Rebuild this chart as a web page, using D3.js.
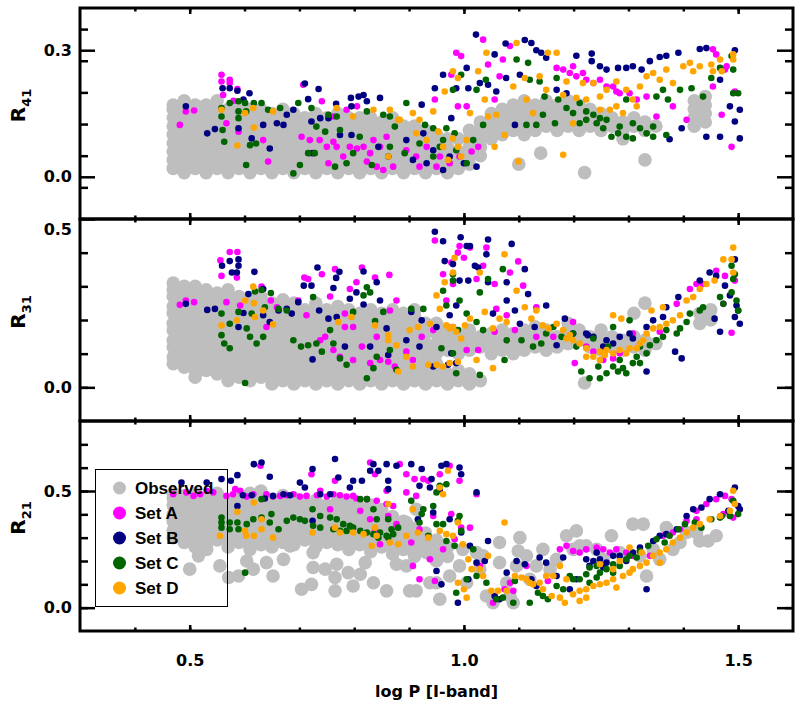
<!DOCTYPE html>
<html>
<head>
<meta charset="utf-8">
<script src="https://cdn.jsdelivr.net/npm/d3@7"></script>
<style>
  body { margin: 0; background: #fff; }
  #graphic { width: 802px; height: 702px; }
</style>
</head>
<body>
<div id="graphic"></div>
<script>
// Fourier parameter ratios vs log P, observed stars and four model sets

// observed stars, dense part: [logP, [R values]]
const obsR41Cols = [
  [0.47,[0.02,0.04,0.06,0.08,0.10,0.12,0.14,0.16,0.17]],[0.49,[0.01,0.03,0.05,0.07,0.09,0.11,0.13,0.15,0.17,0.18]],
  [0.51,[0.02,0.04,0.06,0.08,0.10,0.12,0.14,0.16,0.17]],[0.53,[0.01,0.03,0.05,0.07,0.09,0.11,0.13,0.15,0.17]],
  [0.55,[0.02,0.04,0.06,0.08,0.10,0.12,0.14,0.16,0.18]],[0.57,[0.01,0.03,0.05,0.07,0.09,0.11,0.13,0.15,0.16]],
  [0.59,[0.02,0.04,0.06,0.08,0.10,0.12,0.14,0.16,0.17]],[0.61,[0.01,0.03,0.05,0.07,0.09,0.11,0.13,0.15,0.16]],
  [0.63,[0.02,0.04,0.06,0.08,0.10,0.12,0.14,0.16]],[0.65,[0.01,0.03,0.05,0.07,0.09,0.11,0.13,0.15]],
  [0.67,[0.02,0.04,0.06,0.08,0.10,0.12,0.14,0.16]],[0.69,[0.01,0.03,0.05,0.07,0.09,0.11,0.13,0.15]],
  [0.71,[0.02,0.04,0.06,0.08,0.10,0.12,0.14]],[0.73,[0.01,0.03,0.05,0.07,0.09,0.11,0.13,0.15]],
  [0.75,[0.02,0.04,0.06,0.08,0.10,0.12,0.14]],[0.77,[0.01,0.03,0.05,0.07,0.09,0.11,0.13,0.15]],
  [0.79,[0.02,0.04,0.06,0.08,0.10,0.12,0.14]],[0.81,[0.01,0.03,0.05,0.07,0.09,0.11,0.13,0.14]],
  [0.83,[0.02,0.04,0.06,0.08,0.10,0.12,0.14]],[0.85,[0.01,0.03,0.05,0.07,0.09,0.11,0.13]],
  [0.87,[0.02,0.04,0.06,0.08,0.10,0.12,0.14]],[0.89,[0.01,0.03,0.05,0.07,0.09,0.11,0.12]],
  [0.91,[0.02,0.04,0.06,0.08,0.10,0.12]],[0.93,[0.01,0.03,0.05,0.07,0.09,0.11]],
  [0.95,[0.02,0.04,0.06,0.08,0.10]],[0.97,[0.01,0.03,0.05,0.07,0.09]],
  [0.99,[0.02,0.04,0.06,0.09]],[1.01,[0.03,0.05,0.07,0.09,0.11]],[1.03,[0.05,0.07,0.09,0.11,0.13]],
  [1.05,[0.09,0.11,0.13,0.15]],[1.07,[0.10,0.12,0.14,0.16]],[1.09,[0.11,0.13,0.15,0.17]],
  [1.11,[0.10,0.12,0.14,0.16,0.18]],[1.13,[0.11,0.13,0.15,0.17]],[1.15,[0.12,0.14,0.16,0.18]],
  [1.17,[0.11,0.13,0.15,0.17]],[1.19,[0.12,0.14,0.16,0.18]],[1.21,[0.11,0.13,0.15,0.17]],
  [1.23,[0.12,0.14,0.16]],[1.25,[0.11,0.13,0.15]],[1.27,[0.12,0.14]],[1.29,[0.11,0.13]],
  [1.31,[0.12,0.14]],[1.33,[0.11,0.13]],[1.35,[0.12]],[1.42,[0.12,0.14,0.16,0.18]],[1.44,[0.13,0.15,0.17,0.19]]
];
const obsR41Pts = [[1.10,0.03],[1.14,0.056],[1.22,0.01],[1.33,0.04],[1.29,0.09]];

const obsR31Cols = [
  [0.47,[0.07,0.09,0.12,0.14,0.17,0.19,0.22,0.24,0.27,0.29,0.31]],
  [0.49,[0.06,0.08,0.11,0.13,0.16,0.18,0.21,0.23,0.26,0.28,0.30]],
  [0.51,[0.03,0.05,0.08,0.10,0.13,0.15,0.18,0.20,0.23,0.25,0.28,0.30]],
  [0.53,[0.05,0.07,0.10,0.12,0.15,0.17,0.20,0.22,0.25,0.27,0.29]],
  [0.55,[0.04,0.06,0.09,0.11,0.14,0.16,0.19,0.21,0.24,0.26,0.28]],
  [0.57,[0.02,0.04,0.07,0.09,0.12,0.14,0.17,0.19,0.22,0.24,0.27,0.29]],
  [0.59,[0.03,0.05,0.08,0.10,0.13,0.15,0.18,0.20,0.23,0.25,0.27]],
  [0.61,[0.02,0.04,0.07,0.09,0.12,0.14,0.17,0.19,0.22,0.24,0.26]],
  [0.63,[0.03,0.05,0.08,0.10,0.13,0.15,0.18,0.20,0.23,0.25,0.27]],
  [0.65,[0.01,0.03,0.06,0.08,0.11,0.13,0.16,0.18,0.21,0.23,0.25]],
  [0.67,[0.02,0.04,0.07,0.09,0.12,0.14,0.17,0.19,0.22,0.24,0.26]],
  [0.69,[0.01,0.03,0.06,0.08,0.11,0.13,0.16,0.18,0.21,0.23,0.25]],
  [0.71,[0.02,0.04,0.07,0.09,0.12,0.14,0.17,0.19,0.21,0.23]],
  [0.73,[0.01,0.03,0.06,0.08,0.11,0.13,0.16,0.18,0.21,0.23,0.25]],
  [0.75,[0.02,0.04,0.07,0.09,0.12,0.14,0.17,0.19,0.21,0.23]],
  [0.77,[0.01,0.03,0.06,0.08,0.11,0.13,0.16,0.18,0.21,0.24]],
  [0.79,[0.02,0.04,0.07,0.09,0.12,0.14,0.17,0.19,0.21,0.23]],
  [0.81,[0.01,0.03,0.06,0.08,0.11,0.13,0.16,0.18,0.20,0.22]],
  [0.83,[0.02,0.04,0.07,0.09,0.12,0.14,0.17,0.19,0.21,0.23]],
  [0.85,[0.01,0.03,0.06,0.08,0.11,0.13,0.16,0.18,0.20,0.22]],
  [0.87,[0.02,0.04,0.07,0.09,0.12,0.14,0.17,0.19,0.21,0.23]],
  [0.89,[0.01,0.03,0.06,0.08,0.11,0.13,0.16,0.18,0.20,0.22]],
  [0.91,[0.02,0.04,0.07,0.09,0.12,0.14,0.17,0.19,0.21,0.23]],
  [0.93,[0.01,0.03,0.06,0.08,0.11,0.13,0.16,0.19]],
  [0.95,[0.02,0.04,0.07,0.10,0.13,0.16,0.19]],[0.97,[0.01,0.04,0.11,0.14,0.17]],
  [0.99,[0.02,0.05,0.10,0.13,0.16]],[1.01,[0.01,0.04,0.11,0.14,0.17]],[1.03,[0.02,0.12,0.15]],
  [1.05,[0.10,0.13,0.16]],[1.07,[0.11,0.14,0.17]],[1.09,[0.10,0.13,0.16]],[1.11,[0.11,0.14,0.17]],
  [1.13,[0.12,0.15,0.18]],[1.15,[0.11,0.14,0.17]],[1.17,[0.12,0.15]],[1.19,[0.13,0.16,0.19]],
  [1.21,[0.14,0.17]],[1.23,[0.12,0.15]],[1.25,[0.11,0.14,0.17]],[1.27,[0.12,0.15]],[1.29,[0.11,0.14]],
  [1.31,[0.12,0.15,0.22]],[1.33,[0.11,0.14,0.25]],[1.35,[0.13]],[1.43,[0.19,0.22]],[1.45,[0.20,0.23]]
];
const obsR31Pts = [[1.22,0.013]];

const obsR21Cols = [
  [0.47,[0.30,0.33,0.37,0.40,0.44,0.47,0.49]],[0.49,[0.28,0.31,0.35,0.38,0.42,0.45,0.48]],
  [0.51,[0.26,0.29,0.33,0.36,0.40,0.43,0.46,0.49]],[0.53,[0.27,0.30,0.34,0.37,0.41,0.44,0.47]],
  [0.55,[0.29,0.32,0.36,0.39,0.43,0.46,0.49]],[0.57,[0.26,0.29,0.33,0.36,0.40,0.43,0.46]],
  [0.59,[0.28,0.31,0.35,0.38,0.42,0.45,0.48]],[0.61,[0.25,0.28,0.32,0.35,0.39,0.42,0.46,0.49]],
  [0.63,[0.27,0.30,0.34,0.37,0.41,0.44,0.47,0.50]],[0.65,[0.26,0.29,0.33,0.36,0.40,0.43,0.46]],
  [0.67,[0.28,0.31,0.35,0.38,0.42,0.45,0.48]],[0.69,[0.27,0.30,0.34,0.37,0.41,0.44,0.47]],
  [0.71,[0.29,0.32,0.36,0.39,0.42,0.45]],[0.73,[0.26,0.29,0.33,0.36,0.40,0.43,0.46]],
  [0.75,[0.28,0.31,0.35,0.38,0.41,0.44]],[0.77,[0.27,0.30,0.34,0.37,0.40,0.43,0.46]],
  [0.79,[0.25,0.28,0.32,0.35,0.39,0.42,0.45]],[0.81,[0.27,0.30,0.34,0.37,0.40,0.43]],
  [0.83,[0.24,0.27,0.31,0.34,0.38,0.41,0.44]],[0.85,[0.26,0.29,0.33,0.36,0.39,0.42]],
  [0.87,[0.23,0.26,0.30,0.33,0.36,0.39]],[0.89,[0.25,0.28,0.32,0.35,0.37]],
  [0.91,[0.22,0.25,0.29,0.32,0.34]],[0.93,[0.24,0.27,0.30,0.32]],[0.95,[0.20,0.24,0.27,0.29]],[0.97,[0.22,0.26]]
];
const obsR21Pts = [
  [0.50,0.165],[0.516,0.222],[0.571,0.129],[0.589,0.136],[0.604,0.20],[0.616,0.165],[0.64,0.193],
  [0.671,0.207],[0.683,0.265],[0.704,0.079],[0.722,0.10],[0.725,0.172],[0.725,0.236],[0.765,0.072],
  [0.765,0.129],[0.768,0.186],[0.789,0.15],[0.811,0.143],[0.82,0.193],[0.835,0.107],[0.859,0.072],
  [0.877,0.186],[0.531,0.25],[0.555,0.179],[0.652,0.136],[0.747,0.165],[0.798,0.093],
  [0.901,0.072],[0.913,0.072],[0.956,0.036],[0.95,0.107],[0.895,0.179],[0.919,0.25],[0.974,0.136],
  [1.005,0.107],[1.029,0.165],[1.041,0.05],[1.053,0.021],[1.065,0.279],[1.084,0.05],[1.09,0.021],
  [1.102,0.30],[1.099,0.243],[1.12,0.122],[1.132,0.179],[1.187,0.308],[1.205,0.329],[1.211,0.265],
  [1.242,0.25],[1.269,0.308],[1.308,0.358],[1.327,0.358],[1.333,0.136],[1.369,0.343],[1.381,0.25],
  [1.406,0.322],[1.43,0.286],[1.445,0.286],[1.424,0.322],[1.321,0.222],[1.357,0.207],[1.144,0.25],
  [1.169,0.207],[1.199,0.25],[1.223,0.265],[1.065,0.193],[1.096,0.179],[0.895,0.365],[0.913,0.422],
  [0.932,0.236],[0.998,0.25],[1.023,0.236],[0.938,0.107],[0.992,0.179],[1.035,0.222],[1.078,0.107],
  [1.114,0.222],[1.157,0.165],[1.254,0.207],[1.284,0.236],[1.345,0.25],[1.394,0.279],[1.46,0.308]
];

// model sets, R41
const setAR41 = [
  [0.558,0.242],[0.558,0.226],[0.573,0.23],[0.573,0.222],[0.587,0.208],[0.561,0.194],[0.482,0.123],
  [0.493,0.155],[0.508,0.157],[0.707,0.218],[0.741,0.179],[0.589,0.107],[0.643,0.036],[0.634,0.087],
  [0.567,0.127],[0.58,0.18],[0.704,0.095],[0.719,0.087],[0.737,0.087],[0.75,0.071],[0.762,0.083],
  [0.768,0.071],[0.753,0.032],[0.78,0.048],[0.792,0.071],[0.805,0.067],[0.817,0.071],[0.829,0.056],
  [0.835,0.087],[0.847,0.071],[0.859,0.095],[0.841,0.024],[0.853,0.016],[0.871,0.024],[0.823,0.036],
  [0.786,0.159],[0.805,0.167],[0.762,0.143],[0.72,0.056],[0.986,0.294],[0.995,0.286],[0.977,0.242],
  [1.044,0.266],[1.071,0.278],[1.084,0.31],[1.035,0.325],[0.989,0.167],[1.005,0.167],[0.947,0.183],
  [1.169,0.258],[1.181,0.254],[1.193,0.246],[1.199,0.262],[1.205,0.238],[1.217,0.246],[1.223,0.23],
  [1.236,0.222],[1.248,0.23],[1.26,0.214],[1.272,0.214],[1.278,0.202],[1.284,0.198],[1.302,0.198],
  [1.315,0.183],[1.333,0.19],[1.454,0.302],[1.46,0.29],[1.476,0.254],[1.454,0.214],[1.494,0.202],
  [1.488,0.071],[1.47,0.147],[1.406,0.135],[1.381,0.167],[1.351,0.143],[1.479,0.262],[0.895,0.063],
  [0.913,0.048],[0.932,0.071],[0.956,0.048],[0.974,0.032],[0.992,0.048],[1.014,0.06],[1.026,0.071],
  [0.919,0.024],[0.95,0.024],[1.056,0.183],[1.065,0.238]
];
const setBR41 = [
  [0.493,0.167],[0.532,0.103],[0.546,0.113],[0.56,0.21],[0.573,0.21],[0.587,0.204],[0.598,0.183],
  [0.609,0.198],[0.589,0.115],[0.613,0.091],[0.634,0.123],[0.646,0.067],[0.71,0.221],[0.735,0.208],
  [0.716,0.184],[0.689,0.159],[0.677,0.147],[0.722,0.131],[0.767,0.173],[0.794,0.187],[0.808,0.19],
  [0.817,0.194],[0.823,0.179],[0.847,0.187],[0.738,0.139],[0.753,0.139],[0.795,0.099],[0.774,0.099],
  [0.659,0.127],[0.671,0.123],[0.795,0.167],[0.862,0.048],[0.725,0.056],[0.844,0.071],[1.022,0.337],
  [1.076,0.316],[1.111,0.324],[1.123,0.317],[1.132,0.30],[1.141,0.294],[1.15,0.282],[1.205,0.287],
  [1.233,0.292],[1.233,0.274],[1.248,0.262],[1.26,0.254],[1.281,0.258],[1.296,0.258],[1.308,0.262],
  [1.324,0.254],[1.339,0.274],[1.357,0.284],[1.369,0.287],[1.391,0.294],[1.43,0.303],[1.442,0.305],
  [1.494,0.30],[1.467,0.23],[1.485,0.167],[1.503,0.159],[1.494,0.131],[1.442,0.095],[1.467,0.095],
  [1.503,0.091],[1.375,0.089],[1.397,0.115],[0.947,0.21],[0.962,0.242],[0.986,0.21],[1.008,0.21],
  [1.029,0.222],[1.044,0.218],[1.059,0.202],[1.077,0.234],[1.102,0.242],[1.005,0.258],[1.056,0.29],
  [1.169,0.206],[1.187,0.198],[0.895,0.087],[0.907,0.04],[0.932,0.032],[0.944,0.063],[0.962,0.016],
  [0.974,0.048],[1.0,0.032],[1.023,0.024],[0.923,0.171],[0.977,0.139],[1.093,0.123],[0.926,0.103]
];
const setCR41 = [
  [0.558,0.163],[0.558,0.143],[0.56,0.111],[0.563,0.083],[0.573,0.175],[0.589,0.179],[0.589,0.155],
  [0.589,0.139],[0.601,0.175],[0.603,0.155],[0.603,0.028],[0.61,0.075],[0.621,0.079],[0.617,0.175],
  [0.631,0.175],[0.643,0.159],[0.665,0.163],[0.689,0.008],[0.701,0.028],[0.698,0.175],[0.722,0.163],
  [0.716,0.056],[0.728,0.056],[0.731,0.119],[0.747,0.107],[0.753,0.147],[0.768,0.143],[0.774,0.111],
  [0.786,0.032],[0.765,0.024],[0.798,0.056],[0.81,0.095],[0.823,0.155],[0.832,0.028],[0.853,0.147],
  [0.865,0.143],[0.874,0.119],[0.865,0.071],[0.892,0.056],[0.895,0.175],[0.929,0.123],[0.944,0.115],
  [0.956,0.071],[0.968,0.115],[0.983,0.103],[0.995,0.242],[0.98,0.206],[1.023,0.206],[1.04,0.23],
  [1.035,0.123],[1.096,0.278],[1.117,0.27],[1.12,0.23],[1.138,0.226],[1.147,0.19],[1.169,0.234],
  [1.172,0.183],[1.187,0.163],[1.199,0.151],[1.211,0.175],[1.223,0.155],[1.236,0.147],[1.248,0.139],
  [1.26,0.135],[1.269,0.095],[1.281,0.103],[1.296,0.095],[1.308,0.127],[1.321,0.115],[1.333,0.103],
  [1.345,0.119],[1.369,0.099],[1.372,0.183],[1.394,0.206],[1.415,0.21],[1.436,0.19],[1.451,0.234],
  [1.467,0.258],[1.491,0.254],[1.491,0.198],[1.50,0.198],[1.488,0.286],[1.211,0.127],[1.242,0.127],
  [1.284,0.119],[1.144,0.147],[1.132,0.123],[1.114,0.123],[1.166,0.127],[1.296,0.183],[1.351,0.19],
  [1.363,0.206],[1.223,0.135],[1.254,0.115],[1.308,0.091],[1.345,0.095],[0.919,0.079],[0.944,0.048],
  [0.962,0.087],[0.986,0.063],[1.005,0.032],[1.017,0.087]
];
const setDR41 = [
  [0.558,0.159],[0.587,0.074],[0.601,0.151],[0.616,0.163],[0.617,0.117],[0.652,0.155],[0.768,0.163],
  [0.798,0.143],[0.835,0.159],[0.862,0.048],[0.865,0.159],[0.88,0.135],[0.883,0.135],[0.907,0.151],
  [0.913,0.103],[0.944,0.155],[0.953,0.107],[0.962,0.071],[0.98,0.091],[0.989,0.071],[0.995,0.048],
  [1.011,0.151],[0.989,0.234],[0.98,0.25],[0.965,0.202],[1.041,0.294],[1.044,0.143],[1.038,0.183],
  [1.059,0.147],[1.026,0.25],[1.074,0.099],[1.056,0.071],[1.099,0.036],[1.096,0.317],[1.111,0.234],
  [1.126,0.151],[1.138,0.238],[1.153,0.294],[1.169,0.294],[1.181,0.194],[1.181,0.052],[1.199,0.127],
  [1.187,0.226],[1.205,0.187],[1.217,0.222],[1.236,0.222],[1.248,0.19],[1.26,0.206],[1.278,0.226],
  [1.278,0.167],[1.296,0.206],[1.308,0.183],[1.321,0.214],[1.333,0.238],[1.345,0.246],[1.357,0.23],
  [1.369,0.254],[1.381,0.222],[1.40,0.262],[1.412,0.27],[1.418,0.25],[1.43,0.262],[1.451,0.266],
  [1.467,0.278],[1.491,0.29],[1.491,0.278],[1.454,0.25],[1.47,0.25],[1.266,0.159],[1.223,0.183],
  [1.248,0.159],[1.29,0.151],[1.315,0.167],[1.15,0.206],[1.09,0.214],[1.114,0.183],[0.919,0.135],
  [0.932,0.087],[0.971,0.04],[1.005,0.087]
];

// model sets, R31
const setAR31 = [
  [0.556,0.377],[0.573,0.402],[0.587,0.402],[0.586,0.326],[0.558,0.331],[0.482,0.245],[0.493,0.258],
  [0.508,0.253],[0.567,0.253],[0.592,0.243],[0.631,0.299],[0.648,0.258],[0.64,0.179],[0.659,0.238],
  [0.698,0.258],[0.709,0.326],[0.716,0.322],[0.741,0.336],[0.756,0.27],[0.765,0.351],[0.783,0.219],
  [0.792,0.292],[0.804,0.312],[0.814,0.356],[0.838,0.326],[0.864,0.334],[0.877,0.258],[0.713,0.214],
  [0.747,0.15],[0.762,0.111],[0.783,0.179],[0.798,0.179],[0.814,0.121],[0.829,0.072],[0.847,0.081],
  [0.862,0.076],[0.874,0.062],[0.841,0.15],[0.865,0.228],[0.738,0.14],[0.774,0.091],[0.798,0.081],
  [0.947,0.436],[0.992,0.42],[1.011,0.415],[0.989,0.40],[0.977,0.371],[1.0,0.385],[0.962,0.336],
  [0.968,0.258],[0.98,0.307],[1.023,0.322],[1.035,0.361],[1.041,0.415],[1.056,0.307],[1.084,0.341],
  [1.099,0.374],[1.108,0.302],[1.059,0.233],[1.078,0.214],[1.093,0.17],[1.132,0.238],[0.944,0.17],
  [0.923,0.15],[0.98,0.179],[1.005,0.111],[1.026,0.111],[1.056,0.165],[1.132,0.15],[1.163,0.15],
  [1.199,0.194],[1.202,0.072],[1.254,0.081],[1.272,0.086],[1.284,0.101],[1.308,0.16],[1.357,0.165],
  [1.388,0.248],[1.412,0.292],[1.424,0.307],[1.436,0.307],[1.46,0.346],[1.476,0.331],[1.494,0.317],
  [1.473,0.248],[1.488,0.162],[0.895,0.106],[0.907,0.081],[1.223,0.121],[1.236,0.106]
];
const setBR31 = [
  [0.559,0.361],[0.573,0.375],[0.589,0.38],[0.589,0.361],[0.577,0.341],[0.586,0.341],[0.618,0.343],
  [0.493,0.248],[0.532,0.23],[0.546,0.233],[0.607,0.277],[0.634,0.292],[0.634,0.214],[0.646,0.194],
  [0.589,0.179],[0.598,0.221],[0.662,0.228],[0.677,0.233],[0.686,0.219],[0.698,0.253],[0.708,0.302],
  [0.722,0.302],[0.733,0.356],[0.736,0.228],[0.753,0.204],[0.762,0.295],[0.767,0.325],[0.773,0.343],
  [0.792,0.263],[0.804,0.282],[0.817,0.344],[0.817,0.246],[0.841,0.312],[0.847,0.258],[0.859,0.175],
  [0.862,0.096],[0.724,0.083],[0.768,0.209],[0.783,0.121],[0.829,0.121],[0.947,0.462],[0.962,0.434],
  [0.994,0.446],[1.005,0.42],[1.011,0.42],[1.044,0.439],[1.041,0.395],[1.087,0.426],[0.965,0.375],
  [0.98,0.366],[1.02,0.361],[0.992,0.317],[1.008,0.317],[1.044,0.312],[1.026,0.356],[1.078,0.312],
  [1.111,0.351],[1.15,0.243],[1.117,0.277],[1.053,0.219],[1.078,0.258],[1.093,0.228],[1.102,0.189],
  [1.129,0.179],[0.974,0.214],[0.986,0.243],[0.95,0.179],[0.923,0.199],[0.904,0.224],[0.895,0.14],
  [0.919,0.121],[0.944,0.062],[0.977,0.101],[0.971,0.067],[0.986,0.072],[1.184,0.204],[1.169,0.125],
  [1.199,0.16],[1.223,0.16],[1.236,0.15],[1.254,0.121],[1.284,0.15],[1.302,0.16],[1.308,0.145],
  [1.333,0.179],[1.345,0.199],[1.363,0.209],[1.369,0.238],[1.391,0.268],[1.43,0.317],[1.448,0.341],
  [1.46,0.331],[1.476,0.302],[1.494,0.38],[1.485,0.273],[1.497,0.243],[1.50,0.228],[1.494,0.209],
  [1.503,0.189],[1.467,0.165],[1.457,0.204],[1.385,0.106],[1.397,0.086],[1.333,0.047],[1.226,0.155],
  [1.26,0.14],[1.272,0.13]
];
const setCR31 = [
  [0.558,0.219],[0.558,0.155],[0.563,0.13],[0.573,0.189],[0.573,0.116],[0.589,0.224],[0.604,0.175],
  [0.61,0.15],[0.613,0.219],[0.619,0.285],[0.631,0.289],[0.637,0.238],[0.648,0.28],[0.622,0.13],
  [0.634,0.15],[0.601,0.013],[0.662,0.233],[0.677,0.228],[0.689,0.14],[0.703,0.121],[0.716,0.125],
  [0.725,0.268],[0.731,0.13],[0.741,0.106],[0.756,0.17],[0.762,0.13],[0.774,0.086],[0.786,0.067],
  [0.798,0.224],[0.817,0.273],[0.823,0.297],[0.829,0.282],[0.838,0.197],[0.835,0.057],[0.841,0.091],
  [0.823,0.027],[0.853,0.224],[0.865,0.111],[0.877,0.052],[0.904,0.233],[0.926,0.233],[0.962,0.287],
  [0.98,0.317],[0.98,0.336],[0.992,0.258],[0.968,0.243],[0.989,0.17],[1.005,0.219],[1.023,0.194],
  [1.035,0.17],[1.044,0.322],[1.071,0.351],[1.029,0.282],[0.959,0.116],[0.98,0.101],[0.986,0.042],
  [1.029,0.037],[1.078,0.14],[1.074,0.081],[1.105,0.14],[1.126,0.121],[1.141,0.13],[1.15,0.16],
  [1.163,0.179],[1.178,0.15],[1.199,0.16],[1.205,0.121],[1.214,0.047],[1.229,0.027],[1.245,0.062],
  [1.248,0.027],[1.26,0.042],[1.272,0.062],[1.281,0.047],[1.29,0.057],[1.296,0.042],[1.308,0.072],
  [1.315,0.091],[1.321,0.072],[1.333,0.101],[1.339,0.125],[1.351,0.14],[1.363,0.15],[1.369,0.17],
  [1.388,0.16],[1.394,0.175],[1.406,0.194],[1.412,0.219],[1.43,0.228],[1.436,0.238],[1.467,0.268],
  [1.473,0.248],[1.488,0.282],[1.491,0.322],[1.488,0.361],[1.494,0.336],[1.50,0.228],[1.497,0.258],
  [1.272,0.179],[1.302,0.199],[1.263,0.121],[1.236,0.145],[1.284,0.081],[1.321,0.121]
];
const setDR31 = [
  [0.558,0.184],[0.586,0.199],[0.601,0.258],[0.616,0.299],[0.617,0.25],[0.619,0.209],[0.634,0.228],
  [0.652,0.187],[0.771,0.194],[0.795,0.209],[0.838,0.184],[0.862,0.155],[0.862,0.14],[0.88,0.047],
  [0.877,0.125],[0.901,0.17],[0.916,0.179],[0.938,0.189],[0.95,0.273],[0.956,0.233],[0.968,0.184],
  [0.974,0.175],[0.98,0.179],[0.983,0.385],[0.98,0.341],[0.965,0.312],[0.986,0.165],[0.995,0.145],
  [1.002,0.184],[1.011,0.204],[1.029,0.341],[1.038,0.224],[1.053,0.175],[1.065,0.204],[1.078,0.194],
  [1.074,0.395],[1.096,0.287],[1.111,0.238],[1.123,0.204],[1.132,0.228],[1.144,0.184],[1.154,0.175],
  [1.169,0.189],[1.181,0.17],[1.193,0.155],[1.199,0.14],[1.211,0.13],[1.223,0.116],[1.236,0.091],
  [1.248,0.106],[1.257,0.096],[1.272,0.101],[1.284,0.111],[1.302,0.116],[1.315,0.116],[1.321,0.13],
  [1.327,0.14],[1.333,0.16],[1.345,0.175],[1.357,0.179],[1.369,0.189],[1.381,0.199],[1.394,0.214],
  [1.406,0.258],[1.418,0.268],[1.43,0.292],[1.442,0.307],[1.457,0.317],[1.473,0.38],[1.491,0.415],
  [1.488,0.38],[1.491,0.341],[1.187,0.145],[0.935,0.067],[0.95,0.067],[0.962,0.062],[0.974,0.072],
  [0.989,0.076],[1.023,0.081],[1.053,0.057],[0.895,0.091],[0.907,0.062],[1.272,0.214],[1.287,0.204],
  [1.342,0.228],[1.363,0.238],[1.223,0.091],[1.248,0.081],[1.26,0.111],[1.296,0.101]
];

// model sets, R21
const setAR21 = [
  [0.583,0.508],[0.629,0.608],[0.722,0.572],[0.765,0.544],[0.829,0.622],[0.838,0.572],[0.859,0.501],
  [0.738,0.501],[0.756,0.422],[0.798,0.479],[0.811,0.415],[0.829,0.379],[0.838,0.329],[0.847,0.272],
  [0.862,0.393],[0.877,0.358],[0.507,0.479],[0.47,0.486],[0.494,0.494],[0.519,0.486],[0.543,0.494],
  [0.567,0.479],[0.592,0.501],[0.616,0.486],[0.64,0.486],[0.665,0.479],[0.689,0.486],[0.713,0.479],
  [0.762,0.486],[0.786,0.476],[0.823,0.465],[0.841,0.458],[0.859,0.444],[0.871,0.436],[0.531,0.501],
  [0.579,0.486],[0.604,0.476],[0.652,0.476],[0.677,0.482],[0.701,0.476],[0.732,0.482],[0.75,0.476],
  [0.774,0.482],[0.804,0.468],[0.883,0.615],[0.895,0.572],[0.91,0.551],[0.926,0.551],[0.935,0.544],
  [0.956,0.572],[0.974,0.608],[0.992,0.544],[1.023,0.486],[0.977,0.401],[0.944,0.393],[0.919,0.336],
  [0.904,0.279],[0.907,0.179],[0.919,0.122],[0.947,0.114],[0.938,0.207],[0.962,0.25],[0.983,0.293],
  [0.995,0.343],[1.011,0.343],[1.029,0.179],[1.053,0.021],[1.074,0.079],[1.084,0.107],[1.09,0.072],
  [1.114,0.179],[1.153,0.114],[1.175,0.25],[1.187,0.265],[1.199,0.243],[1.211,0.236],[1.223,0.25],
  [1.242,0.258],[1.254,0.25],[1.266,0.236],[1.278,0.25],[1.296,0.236],[1.308,0.222],[1.339,0.222],
  [1.363,0.308],[1.381,0.322],[1.406,0.372],[1.424,0.415],[1.442,0.444],[1.46,0.465],[1.476,0.479],
  [1.488,0.465],[1.491,0.386],[1.473,0.401],[1.424,0.379],[1.394,0.336],[0.895,0.494],[0.913,0.479]
];
const setBR21 = [
  [0.485,0.536],[0.531,0.536],[0.558,0.551],[0.575,0.544],[0.587,0.568],[0.587,0.436],[0.617,0.615],
  [0.631,0.622],[0.646,0.561],[0.597,0.482],[0.613,0.482],[0.637,0.468],[0.652,0.479],[0.671,0.486],
  [0.683,0.482],[0.701,0.536],[0.71,0.515],[0.724,0.594],[0.724,0.372],[0.738,0.486],[0.756,0.486],
  [0.765,0.637],[0.771,0.558],[0.792,0.515],[0.798,0.544],[0.814,0.544],[0.829,0.587],[0.835,0.615],
  [0.844,0.587],[0.859,0.615],[0.862,0.508],[0.862,0.544],[0.877,0.608],[0.904,0.615],[0.923,0.594],
  [0.941,0.551],[0.959,0.608],[0.968,0.615],[0.992,0.601],[0.995,0.572],[1.023,0.494],[0.919,0.522],
  [0.938,0.515],[0.956,0.508],[0.916,0.379],[0.944,0.408],[0.974,0.379],[0.995,0.322],[1.011,0.265],
  [1.023,0.193],[1.038,0.20],[1.044,0.286],[0.95,0.157],[0.959,0.10],[0.989,0.021],[1.008,0.122],
  [1.056,0.05],[1.065,0.036],[1.078,0.15],[1.096,0.20],[1.111,0.186],[1.123,0.122],[1.132,0.093],
  [1.138,0.215],[1.15,0.193],[1.169,0.136],[1.181,0.215],[1.193,0.079],[1.205,0.122],[1.223,0.207],
  [1.236,0.20],[1.242,0.236],[1.248,0.207],[1.26,0.193],[1.272,0.222],[1.284,0.222],[1.308,0.236],
  [1.321,0.258],[1.333,0.079],[1.345,0.286],[1.357,0.308],[1.369,0.315],[1.388,0.336],[1.406,0.393],
  [1.418,0.422],[1.433,0.429],[1.448,0.465],[1.467,0.486],[1.494,0.515],[1.50,0.436],[1.503,0.422],
  [1.482,0.415],[1.229,0.179],[1.254,0.172],[1.296,0.20]
];
const setCR21 = [
  [0.558,0.386],[0.558,0.365],[0.558,0.343],[0.573,0.365],[0.573,0.336],[0.587,0.365],[0.589,0.336],
  [0.604,0.358],[0.616,0.379],[0.631,0.386],[0.631,0.465],[0.646,0.365],[0.649,0.401],[0.662,0.336],
  [0.689,0.386],[0.701,0.379],[0.71,0.372],[0.724,0.422],[0.725,0.351],[0.738,0.343],[0.756,0.386],
  [0.768,0.379],[0.78,0.358],[0.792,0.351],[0.798,0.343],[0.811,0.329],[0.823,0.322],[0.835,0.315],
  [0.847,0.322],[0.859,0.308],[0.762,0.336],[0.774,0.329],[0.786,0.329],[0.811,0.465],[0.823,0.465],
  [0.835,0.422],[0.841,0.379],[0.862,0.379],[0.868,0.336],[0.88,0.343],[0.601,0.15],[0.844,0.30],
  [0.862,0.30],[0.871,0.315],[0.677,0.372],[0.738,0.393],[0.904,0.458],[0.923,0.401],[0.926,0.422],
  [0.944,0.436],[0.95,0.494],[0.956,0.522],[0.968,0.529],[0.992,0.393],[0.989,0.372],[0.95,0.358],
  [0.962,0.358],[0.919,0.365],[0.935,0.308],[0.968,0.286],[0.983,0.265],[0.995,0.329],[1.017,0.25],
  [0.986,0.064],[1.005,0.122],[1.023,0.136],[1.041,0.107],[1.059,0.036],[1.071,0.043],[1.09,0.021],
  [1.093,0.114],[1.12,0.021],[1.135,0.064],[1.144,0.05],[1.153,0.036],[1.169,0.093],[1.181,0.079],
  [1.193,0.136],[1.199,0.122],[1.211,0.122],[1.223,0.143],[1.229,0.172],[1.242,0.179],[1.248,0.15],
  [1.26,0.165],[1.272,0.186],[1.284,0.179],[1.296,0.207],[1.302,0.222],[1.315,0.215],[1.321,0.243],
  [1.336,0.265],[1.351,0.293],[1.366,0.279],[1.375,0.308],[1.391,0.336],[1.403,0.358],[1.421,0.365],
  [1.433,0.343],[1.451,0.379],[1.47,0.393],[1.485,0.393],[1.50,0.401],[1.491,0.458],[1.467,0.386],
  [1.229,0.107],[1.242,0.129],[1.272,0.15]
];
const setDR21 = [
  [0.555,0.308],[0.587,0.411],[0.601,0.329],[0.603,0.308],[0.617,0.451],[0.617,0.308],[0.631,0.379],
  [0.631,0.336],[0.652,0.30],[0.724,0.322],[0.765,0.343],[0.774,0.322],[0.832,0.265],[0.838,0.343],
  [0.841,0.308],[0.862,0.444],[0.865,0.279],[0.88,0.272],[0.798,0.322],[0.817,0.315],[0.895,0.308],
  [0.907,0.422],[0.916,0.322],[0.935,0.30],[0.956,0.515],[0.962,0.486],[0.971,0.587],[0.956,0.329],
  [0.968,0.315],[0.98,0.308],[0.989,0.365],[0.998,0.272],[1.008,0.207],[1.014,0.165],[1.029,0.165],
  [1.035,0.136],[1.044,0.222],[1.0,0.079],[1.005,0.043],[0.989,0.107],[1.05,0.072],[1.062,0.072],
  [1.074,0.365],[1.078,0.072],[1.093,0.136],[1.105,0.129],[1.114,0.122],[1.12,0.107],[1.126,0.10],
  [1.138,0.107],[1.15,0.136],[1.175,0.043],[1.184,0.021],[1.199,0.057],[1.211,0.072],[1.223,0.079],
  [1.236,0.093],[1.248,0.10],[1.26,0.107],[1.272,0.122],[1.278,0.086],[1.29,0.136],[1.302,0.15],
  [1.308,0.165],[1.321,0.179],[1.333,0.193],[1.345,0.222],[1.357,0.236],[1.369,0.25],[1.381,0.279],
  [1.394,0.30],[1.406,0.322],[1.418,0.343],[1.43,0.358],[1.448,0.379],[1.467,0.393],[1.485,0.415],
  [1.491,0.501],[1.494,0.444],[1.187,0.122],[1.163,0.136],[1.175,0.179],[1.248,0.186],[1.272,0.165],
  [1.284,0.20],[1.302,0.258],[1.324,0.236],[1.357,0.193],[1.211,0.029],[1.223,0.043],[1.16,0.05],
  [1.144,0.079]
];

const seriesNames = ["Observed", "Set A", "Set B", "Set C", "Set D"];
const seriesColors = ["#bebebe", "#ff00ff", "#000080", "#006400", "#ffa500"];
const xDomain = [0.3, 1.6];
const xMajor = [0.5, 1.0, 1.5];

const panelChart = {
  el: "#graphic",
  outerWidth: 802,
  outerHeight: 702,
  left: 80,
  right: 793,
  tickFont: "'DejaVu Sans', sans-serif",
  panels: [
    { sub: "41", top: 8, bottom: 219, domain: [-0.1, 0.4], major: [0.0, 0.3], minorStep: 0.075,
      obs: [obsR41Cols, obsR41Pts], sets: [setAR41, setBR41, setCR41, setDR41] },
    { sub: "31", top: 219, bottom: 421, domain: [-0.1, 0.5], major: [0.0, 0.5], minorStep: 0.1,
      obs: [obsR31Cols, obsR31Pts], sets: [setAR31, setBR31, setCR31, setDR31], edgeLabelShift: 10 },
    { sub: "21", top: 421, bottom: 631, domain: [-0.1, 0.8], major: [0.0, 0.5], minorStep: 0.1,
      obs: [obsR21Cols, obsR21Pts], sets: [setAR21, setBR21, setCR21, setDR21], xLabels: true }
  ],
  createScales(){
    this.xScale = d3.scaleLinear().domain(xDomain).range([this.left, this.right]);
  },
  drawPlot(){
    document.querySelector(this.el).innerHTML = "";
    this.svg = d3.select(this.el).append("svg")
      .attr("width", this.outerWidth)
      .attr("height", this.outerHeight)
      .style("background", "#fff");
  },
  drawPanel(p, i){
    const that = this;
    const y = d3.scaleLinear().domain(p.domain).range([p.bottom, p.top]);
    const g = this.svg.append("g").attr("class", "panel");

    g.append("clipPath").attr("id", "clip" + i)
      .append("rect")
      .attr("x", this.left).attr("y", p.top)
      .attr("width", this.right - this.left).attr("height", p.bottom - p.top);

    const pts = g.append("g").attr("clip-path", `url(#clip${i})`);

    // observed: columns flattened, then scattered ones
    const obs = p.obs[0].flatMap(c => c[1].map(v => [c[0], v])).concat(p.obs[1]);
    pts.append("g").selectAll("circle")
      .data(obs).enter().append("circle")
      .attr("cx", d => that.xScale(d[0]))
      .attr("cy", d => y(d[1]))
      .attr("r", 6.8)
      .attr("fill", seriesColors[0]);

    p.sets.forEach(function(set, k){
      pts.append("g").selectAll("circle")
        .data(set).enter().append("circle")
        .attr("cx", d => that.xScale(d[0]))
        .attr("cy", d => y(d[1]))
        .attr("r", 3.3)
        .attr("fill", seriesColors[k + 1]);
    });

    // ticks, inward like the original
    const inside = v => v > p.domain[0] + 1e-6 && v < p.domain[1] - 1e-6;
    const minor = d3.range(p.domain[0], p.domain[1] + 1e-6, p.minorStep)
      .map(v => +v.toFixed(3)).filter(inside);
    const xMinor = d3.range(0.4, 1.55, 0.1).map(v => +v.toFixed(2));
    const fmt = d3.format(".1f");

    const axes = [
      g.append("g").attr("transform", `translate(${this.left},0)`)
        .call(d3.axisLeft(y).tickValues(minor).tickSize(-8).tickFormat("")),
      g.append("g").attr("class", "yMajor").attr("transform", `translate(${this.left},0)`)
        .call(d3.axisLeft(y).tickValues(p.major).tickSize(-15).tickPadding(8).tickFormat(fmt)),
      g.append("g").attr("transform", `translate(${this.right},0)`)
        .call(d3.axisRight(y).tickValues(minor).tickSize(-8).tickFormat("")),
      g.append("g").attr("transform", `translate(${this.right},0)`)
        .call(d3.axisRight(y).tickValues(p.major.filter(inside)).tickSize(-16).tickFormat("")),
      g.append("g").attr("transform", `translate(0,${p.top})`)
        .call(d3.axisTop(this.xScale).tickValues(xMinor).tickSize(-3.5).tickFormat("")),
      g.append("g").attr("transform", `translate(0,${p.top})`)
        .call(d3.axisTop(this.xScale).tickValues(xMajor).tickSize(-6).tickFormat("")),
      g.append("g").attr("transform", `translate(0,${p.bottom})`)
        .call(d3.axisBottom(this.xScale).tickValues(xMinor).tickSize(-3.5).tickFormat("")),
      g.append("g").attr("class", "xMajor").attr("transform", `translate(0,${p.bottom})`)
        .call(d3.axisBottom(this.xScale).tickValues(xMajor).tickSize(-6).tickPadding(24)
          .tickFormat(p.xLabels ? fmt : ""))
    ];
    axes.forEach(function(a){
      a.select(".domain").remove();
      a.selectAll("line").attr("stroke", "#000").attr("stroke-width", 2.5);
      a.selectAll("text")
        .attr("fill", "#000")
        .style("font-family", that.tickFont)
        .style("font-weight", "bold")
        .style("font-size", "16px");
    });

    // the top label of the middle panel sits a little below its tick
    if (p.edgeLabelShift){
      g.select(".yMajor").selectAll("text")
        .filter(d => d === p.domain[1])
        .attr("y", p.edgeLabelShift);
    }

    g.append("rect")
      .attr("x", this.left).attr("y", p.top)
      .attr("width", this.right - this.left).attr("height", p.bottom - p.top)
      .attr("fill", "none").attr("stroke", "#000").attr("stroke-width", 3);

    // rotated axis title R_xx
    const t = g.append("text")
      .attr("transform", `translate(25,${(p.top + p.bottom) / 2 - 8}) rotate(-90)`)
      .attr("text-anchor", "middle")
      .style("font-family", this.tickFont)
      .style("font-weight", "bold")
      .style("font-size", "20px");
    t.append("tspan").text("R");
    t.append("tspan").attr("dy", 6).style("font-size", "13px").text(p.sub);
  },
  drawLegend(){
    const lg = this.svg.append("g").attr("class", "legend");
    lg.append("rect")
      .attr("x", 95.5).attr("y", 469.5).attr("width", 132).attr("height", 137)
      .attr("fill", "none").attr("stroke", "#000").attr("stroke-width", 1);
    const rows = lg.selectAll("g.row").data(seriesNames).enter().append("g")
      .attr("class", "row")
      .attr("transform", (d, i) => `translate(0,${488 + i * 25})`);
    rows.append("circle").attr("cx", 119.5).attr("cy", 0).attr("r", 6.5)
      .attr("fill", (d, i) => seriesColors[i]);
    rows.append("text").attr("x", 135).attr("y", 6)
      .style("font-family", "'Liberation Sans', Arial, sans-serif")
      .style("font-weight", "bold")
      .style("font-size", "17px")
      .text(d => d);
  },
  drawTitle(){
    this.svg.append("text")
      .attr("x", (this.left + this.right) / 2)
      .attr("y", 697)
      .attr("text-anchor", "middle")
      .style("font-family", this.tickFont)
      .style("font-weight", "bold")
      .style("font-size", "16px")
      .text("log P [I-band]");
  },
  draw(){
    this.createScales();
    this.drawPlot();
    this.panels.forEach((p, i) => this.drawPanel(p, i));
    this.drawLegend();
    this.drawTitle();
  }
};

panelChart.draw();
</script>
</body>
</html>
